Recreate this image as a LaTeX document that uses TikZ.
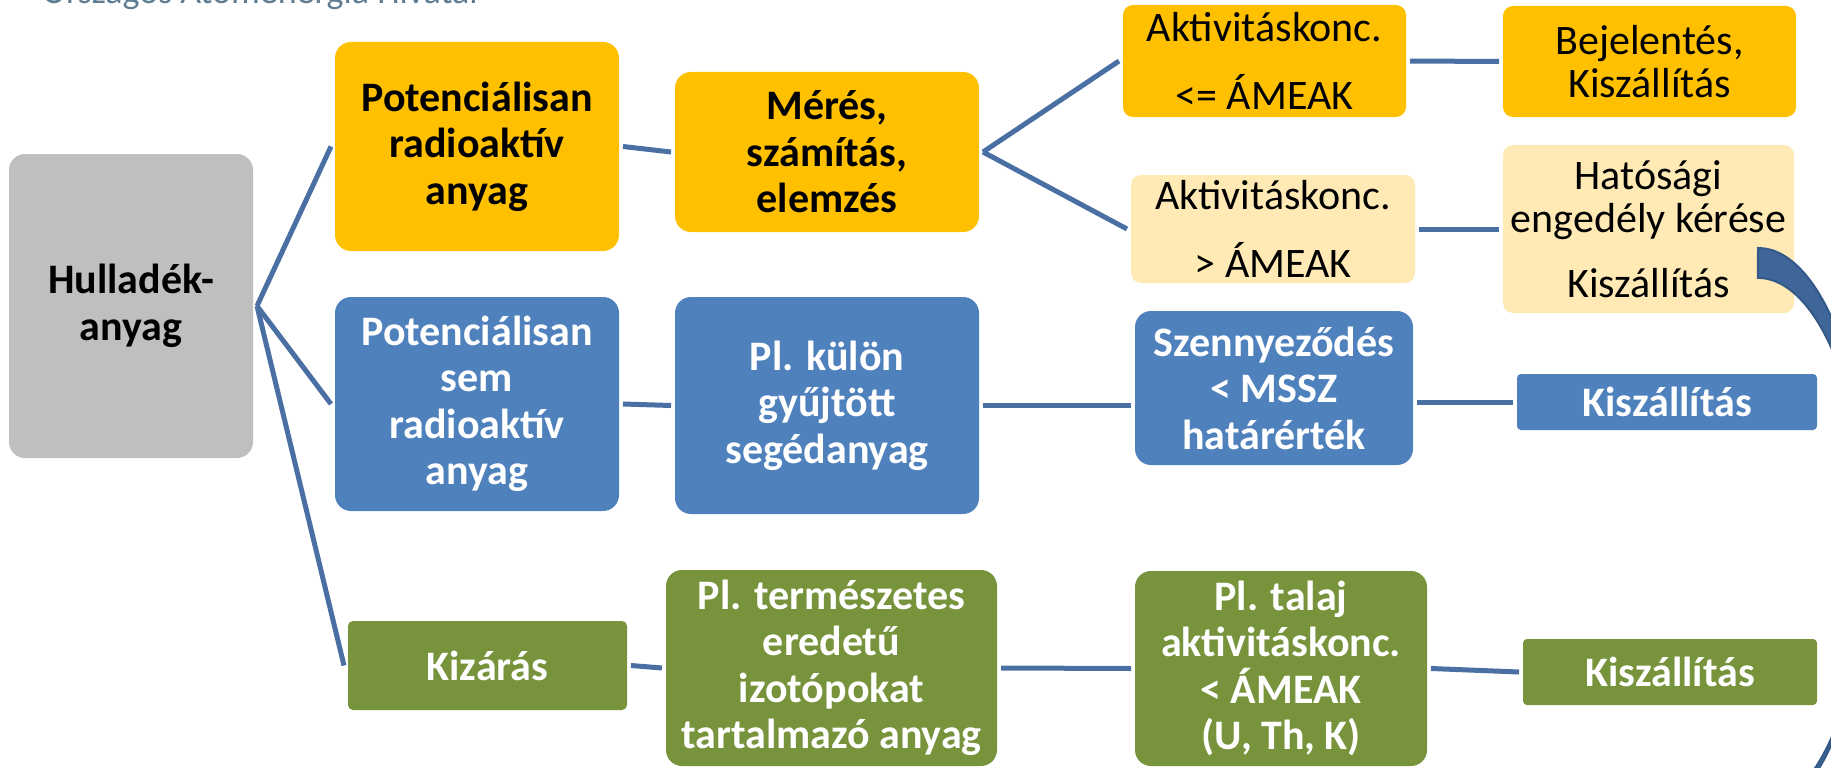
\documentclass[tikz,border=0pt]{standalone}
\usepackage{fontspec}
\setmainfont{Carlito}
\usepackage{xcolor}
\usetikzlibrary{positioning,arrows.meta}

\definecolor{gold}{HTML}{FFC000}
\definecolor{paleGold}{HTML}{FFEAB6}
\definecolor{boxBlue}{HTML}{4F81BD}
\definecolor{boxGreen}{HTML}{77933C}
\definecolor{boxGrey}{HTML}{BFBFBF}
\definecolor{lineBlue}{HTML}{4A6FA3}
\definecolor{arrowBlue}{HTML}{3F6698}
\definecolor{arrowEdge}{HTML}{345888}
\definecolor{headGrey}{HTML}{5E7C92}

\begin{document}
\begin{tikzpicture}[x=1pt, y=-1pt,
    box/.style={rounded corners=16pt, align=center, inner sep=0pt, outer sep=4pt,
      font=\fontsize{42}{46.5}\selectfont\bfseries},
    plain/.style={box, rounded corners=10pt, font=\fontsize{42}{43}\selectfont},
    sz/.style 2 args={minimum width=#1pt, minimum height=#2pt},
    goldbox/.style={box, fill=gold, text=black},
    palebox/.style={plain, fill=paleGold, text=black},
    bluebox/.style={box, fill=boxBlue, text=white},
    greenbox/.style={box, fill=boxGreen, text=white},
    conn/.style={draw=lineBlue, line width=5pt}]
    \useasboundingbox (0,0) rectangle (1831,768);
    \clip (0,0) rectangle (1831,768);

    % header, cut at the top edge
    \node[anchor=base west, inner sep=0pt, text=headGrey, font=\fontsize{36}{40}\selectfont] (hdr) at (42,4) {Országos Atomenergia Hivatal};

    % root
    \node[box, fill=boxGrey, sz={244}{304}] (hull) at (131,306) {Hulladék-\\anyag};

    % gold branch
    \node[goldbox, sz={284}{209}] (potrad) at (477,146.5) {Potenciálisan\\radioaktív\\anyag};
    \node[goldbox, sz={304}{160}] (meres) at (827,152) {Mérés,\\számítás,\\elemzés};
    \node[plain, fill=gold, sz={283}{112}] (aklo) at (1264.5,61) {Aktivitáskonc.\\[25pt]<= ÁMEAK};
    \node[plain, fill=gold, sz={293}{111}] (bejel) at (1649.5,61.5) {Bejelentés,\\Kiszállítás};
    \node[palebox, sz={284}{108}] (akhi) at (1273,229) {Aktivitáskonc.\\[25pt]> ÁMEAK};
    \node[palebox, sz={291}{168}] (hatos) at (1648.5,229) {Hatósági\\engedély kérése\\[22pt]Kiszállítás};

    % blue branch
    \node[bluebox, sz={284}{214}] (potsem) at (477,404) {Potenciálisan\\sem\\radioaktív\\anyag};
    \node[bluebox, sz={304}{217}] (kulon) at (827,405.5) {Pl. külön\\gyűjtött\\segédanyag};
    \node[bluebox, sz={278}{154}] (szenny) at (1274,388) {Szennyeződés\\< MSSZ\\határérték};
    \node[bluebox, rounded corners=4pt, sz={300}{56}] (kiszb) at (1667,402) {Kiszállítás};

    % green branch
    \node[greenbox, rounded corners=5pt, sz={279}{89}] (kizar) at (487.5,665.5) {Kizárás};
    \node[greenbox, sz={331}{196}] (termesz) at (831.5,668) {Pl. természetes\\eredetű\\izotópokat\\tartalmazó anyag};
    \node[greenbox, sz={292}{195}] (talaj) at (1281,668.5) {Pl. talaj\\aktivitáskonc.\\< ÁMEAK\\(U, Th, K)};
    \node[greenbox, rounded corners=4pt, sz={294}{66}] (kiszg) at (1670,672) {Kiszállítás};

    \foreach \a/\b in {hull/potrad, hull/potsem, hull/kizar, potrad/meres, meres/aklo, meres/akhi,
        aklo/bejel, akhi/hatos, potsem/kulon,
        kizar/termesz, termesz/talaj, talaj/kiszg}
      \draw[conn] (\a.east) -- (\b.west);
    % these two sit below the middle of the box
    \draw[conn] (kulon.east) -- (szenny.west |- kulon.east);
    \draw[conn] (szenny.east |- kiszb.west) -- (kiszb.west);

    % curved arrow leaving the page on the right
    \filldraw[fill=arrowBlue, draw=arrowEdge, line width=2pt]
      (1758,248) arc[start angle=-90, end angle=66, x radius=112, y radius=283]
      -- (1802,785) arc[start angle=66, end angle=-90, x radius=108.5, y radius=265] -- cycle;
\end{tikzpicture}
\end{document}
